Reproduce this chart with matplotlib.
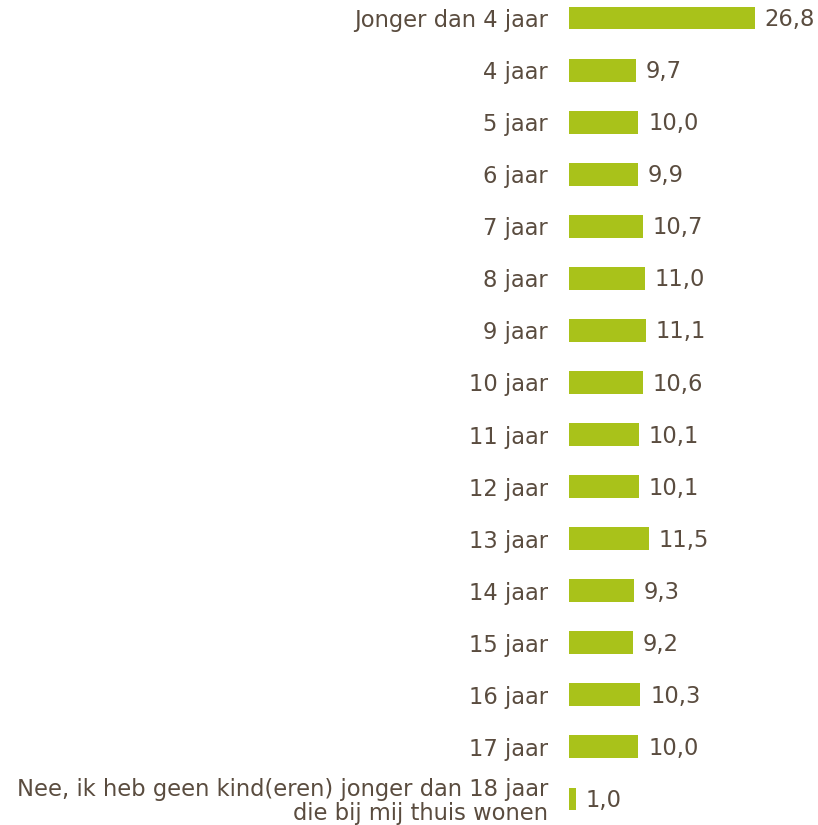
import matplotlib.pyplot as plt

categories = ["Jonger dan 4 jaar", "4 jaar", "5 jaar", "6 jaar", "7 jaar", "8 jaar",
              "9 jaar", "10 jaar", "11 jaar", "12 jaar", "13 jaar", "14 jaar",
              "15 jaar", "16 jaar", "17 jaar",
              "Nee, ik heb geen kind(eren) jonger dan 18 jaar\ndie bij mij thuis wonen"]
values = [26.8, 9.7, 10.0, 9.9, 10.7, 11.0, 11.1, 10.6, 10.1, 10.1, 11.5, 9.3, 9.2, 10.3, 10.0, 1.0]

bar_color = "#a9c21a"
text_color = "#5a4c3f"

fig = plt.figure(figsize=(8.18, 8.25), dpi=100)
ax = fig.add_axes([569 / 818, 0, 1 - 569 / 818, 1])

pos = list(range(len(values)))
ax.barh(pos, values, height=0.44, color=bar_color)
for p, v in zip(pos, values):
    ax.text(v + 1.4, p + 0.03, ("%.1f" % v).replace(".", ","), va="center", ha="left",
            fontsize=16.3, color=text_color)

ax.set_xlim(0, 35.9)
ax.set_ylim(15.5, -0.346)
ax.set_yticks(pos)
ax.set_yticklabels(categories, fontsize=16.3, color=text_color, ha="right",
                   multialignment="right", linespacing=1.05)
ax.tick_params(axis="y", length=0, pad=15)
ax.set_xticks([])
for s in ax.spines.values():
    s.set_visible(False)

fig.savefig("out.png", dpi=100)
